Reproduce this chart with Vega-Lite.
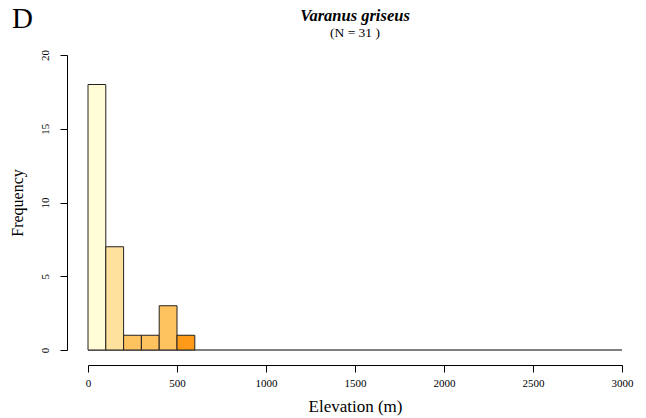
{
  "$schema": "https://vega.github.io/schema/vega-lite/v6.json",
  "autosize": "none",
  "width": 534,
  "height": 295,
  "padding": {"left": 88, "top": 55, "right": 24, "bottom": 68},
  "background": "white",
  "config": {
    "view": {"stroke": null},
    "font": "Liberation Serif"
  },
  "title": {
    "text": "Varanus griseus",
    "subtitle": "(N = 31 )",
    "font": "Liberation Serif",
    "fontSize": 16.5,
    "fontStyle": "italic",
    "fontWeight": "bold",
    "color": "black",
    "subtitleFont": "Liberation Serif",
    "subtitleFontSize": 13.5,
    "subtitleColor": "black",
    "subtitlePadding": 1,
    "anchor": "middle",
    "frame": "group",
    "offset": -34
  },
  "datasets": {
    "bins": [
      {"bin_start": 0, "bin_end": 100, "count": 18, "bin": "0-100"},
      {"bin_start": 100, "bin_end": 200, "count": 7, "bin": "100-200"},
      {"bin_start": 200, "bin_end": 300, "count": 1, "bin": "200-300"},
      {"bin_start": 300, "bin_end": 400, "count": 1, "bin": "300-400"},
      {"bin_start": 400, "bin_end": 500, "count": 3, "bin": "400-500"},
      {"bin_start": 500, "bin_end": 600, "count": 1, "bin": "500-600"}
    ]
  },
  "layer": [
    {
      "data": {"values": [{"from": 0, "to": 3000, "zero": 0}]},
      "mark": {"type": "rule", "color": "black", "strokeWidth": 1},
      "encoding": {
        "x": {"field": "from", "type": "quantitative", "scale": {"domain": [0, 3000], "nice": false, "zero": false}},
        "x2": {"field": "to"},
        "y": {"field": "zero", "type": "quantitative", "scale": {"domain": [0, 20], "nice": false}}
      }
    },
    {
      "data": {"name": "bins"},
      "mark": {"type": "bar", "stroke": "#222222", "strokeWidth": 1},
      "encoding": {
        "x": {
          "field": "bin_start", "type": "quantitative",
          "scale": {"domain": [0, 3000], "nice": false, "zero": false},
          "axis": {
            "title": "Elevation (m)",
            "values": [0, 500, 1000, 1500, 2000, 2500, 3000],
            "format": "d",
            "grid": false,
            "offset": 15,
            "domainColor": "black",
            "tickColor": "black",
            "tickSize": 7,
            "labelFont": "Liberation Serif",
            "labelFontSize": 11,
            "labelColor": "black",
            "labelPadding": 5,
            "labelFlush": false,
            "labelOverlap": false,
            "titleFont": "Liberation Serif",
            "titleFontSize": 17,
            "titleFontWeight": "normal",
            "titleColor": "black",
            "titlePadding": 10
          }
        },
        "x2": {"field": "bin_end"},
        "y": {
          "field": "count", "type": "quantitative",
          "scale": {"domain": [0, 20], "nice": false},
          "axis": {
            "title": "Frequency",
            "values": [0, 5, 10, 15, 20],
            "grid": false,
            "offset": 21,
            "domainColor": "black",
            "tickColor": "black",
            "tickSize": 7,
            "labelAngle": 270,
            "labelAlign": "center",
            "labelBaseline": "bottom",
            "labelFont": "Liberation Serif",
            "labelFontSize": 11,
            "labelColor": "black",
            "labelPadding": 10,
            "labelFlush": false,
            "labelOverlap": false,
            "titleFont": "Liberation Serif",
            "titleFontSize": 16,
            "titleFontWeight": "normal",
            "titleColor": "black",
            "titlePadding": 14
          }
        },
        "y2": {"datum": 0},
        "color": {
          "field": "bin", "type": "nominal",
          "scale": {
            "domain": ["0-100", "100-200", "200-300", "300-400", "400-500", "500-600"],
            "range": ["#FFFCD6", "#FEE19C", "#FEC25F", "#FEC25F", "#FEC25F", "#FE9A17"]
          },
          "legend": null
        }
      }
    },
    {
      "data": {"values": [{"label": "D", "lx": -427, "ly": 21.8}]},
      "mark": {"type": "text", "font": "Liberation Serif", "fontSize": 29, "align": "left", "baseline": "alphabetic", "color": "black"},
      "encoding": {
        "x": {"field": "lx", "type": "quantitative"},
        "y": {"field": "ly", "type": "quantitative"},
        "text": {"field": "label"}
      }
    }
  ]
}
